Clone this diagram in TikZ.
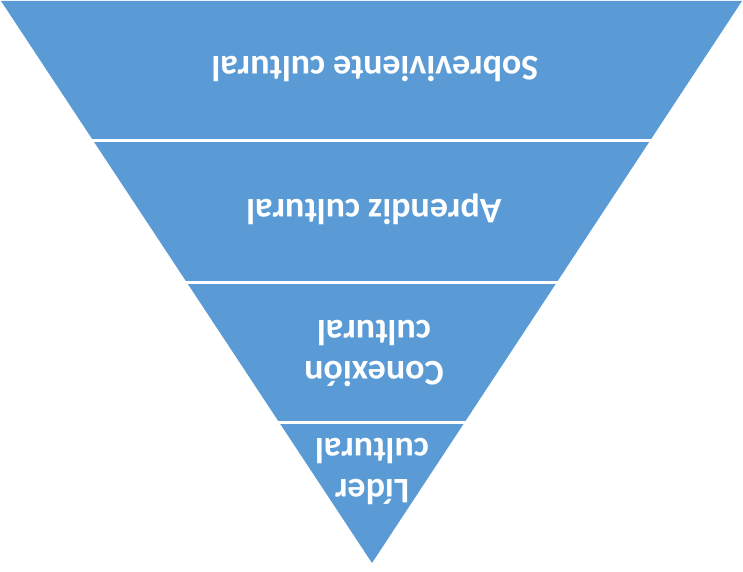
\documentclass[tikz,border=0pt]{standalone}
\usepackage{fontspec}
\setmainfont{Carlito}
\definecolor{funnelblue}{HTML}{5B9BD5}
\begin{document}
\begin{tikzpicture}[x=1pt, y=1pt,
    lbl/.style={text=white, rotate=180, align=center, inner sep=0pt,
      font=\fontsize{36}{41}\selectfont\bfseries},
    gap/.style={white, line width=3pt}]
\useasboundingbox (0,0) rectangle (743,571);
% inverted triangle
\coordinate (TL) at (1,570);
\coordinate (TR) at (742,570);
\coordinate (P) at (372,8);
\fill[funnelblue] (TL) -- (TR) -- (P) -- cycle;
% separators
\draw[gap] (0,430.7) -- (743,430.7);
\draw[gap] (0,288.7) -- (743,288.7);
\draw[gap] (0,148.5) -- (743,148.5);
% labels
\node[lbl] (s) at (375,502) {Sobreviviente cultural};
\node[lbl] (a) at (374,362) {Aprendiz cultural};
\node[lbl] (c) at (374,218) {Conexión\\cultural};
\node[lbl] (l) at (372,100) {Líder\\cultural};
\end{tikzpicture}
\end{document}
